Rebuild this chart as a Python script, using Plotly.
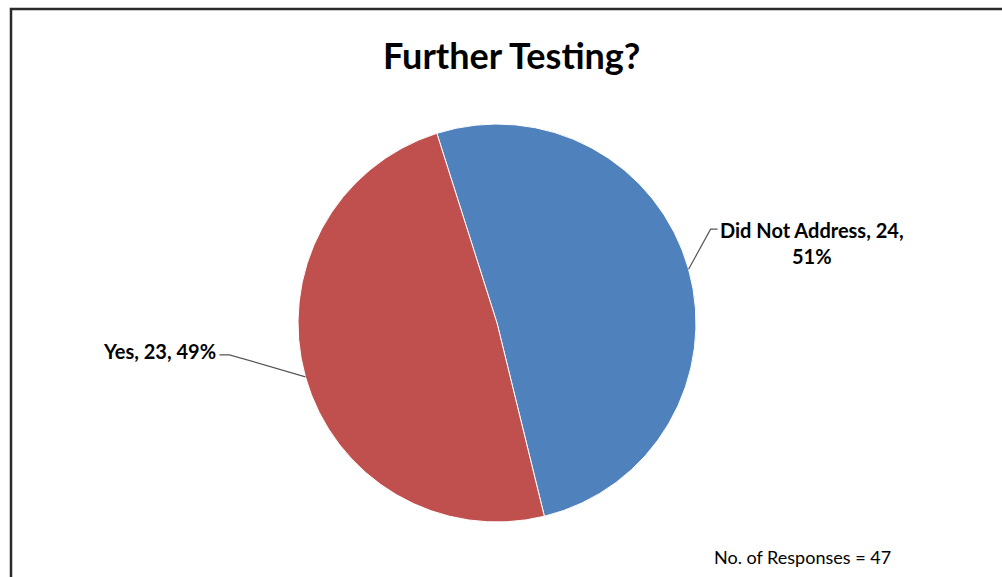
import math
import plotly.graph_objects as go

# ---- data ----
categories = ["Did Not Address", "Yes"]
counts = [24, 23]
colors = ["#4F81BD", "#C0504D"]
title_text = "Further Testing?"
note_text = "No. of Responses = 47"

W, H = 1002, 577
cx, cy, R = 497, 323, 199          # pie centre / radius in pixels (layout)
rotation = -17.6                    # start angle of first slice (deg, clockwise from top)

def px2paper(x, y):
    return x / W, 1 - y / H

fig = go.Figure(go.Pie(
    labels=categories, values=counts, sort=False, direction="clockwise",
    rotation=rotation, marker=dict(colors=colors, line=dict(color="white", width=1)),
    textinfo="none", hoverinfo="label+value+percent", showlegend=False,
    domain=dict(x=[(cx - R) / W, (cx + R) / W], y=[1 - (cy + R) / H, 1 - (cy - R) / H]),
))

total = sum(counts)
shapes = []
annotations = []
start = rotation
label_style = [
    # (elbow offset dx, dy, horizontal tail, side)
    (22, -40, 7, "right"),
    (-76, -22, -10, "left"),
]
for i, (cat, v) in enumerate(zip(categories, counts)):
    span = 360 * v / total
    mid = math.radians(start + span / 2)
    start += span
    ex, ey = cx + R * math.sin(mid), cy - R * math.cos(mid)
    dx, dy, tail, side = label_style[i]
    bx, by = ex + dx, ey + dy
    tx = bx + tail
    pts = [px2paper(ex, ey), px2paper(bx, by), px2paper(tx, by)]
    path = "M {} {} L {} {} L {} {}".format(*[c for p in pts for c in p])
    shapes.append(dict(type="path", xref="paper", yref="paper", path=path,
                       line=dict(color="#555555", width=1.2)))
    pct = round(100 * v / total)
    if side == "right":
        txt = f"{cat}, {v},<br>{pct}%"
        ax, ay = px2paper(tx, by - 13)
        annotations.append(dict(x=ax, y=ay, xref="paper", yref="paper", text=txt,
                                showarrow=False, xanchor="left", yanchor="top", align="center",
                                font=dict(family="Lato", size=20, color="#000000", weight="bold")))
    else:
        txt = f"{cat}, {v}, {pct}%"
        ax, ay = px2paper(tx - 1, by - 4)
        annotations.append(dict(x=ax, y=ay, xref="paper", yref="paper", text=txt,
                                showarrow=False, xanchor="right", yanchor="middle", align="right",
                                font=dict(family="Lato", size=20, color="#000000", weight="bold")))

# title
tx_, ty_ = px2paper(511, 55)
annotations.append(dict(x=tx_, y=ty_, xref="paper", yref="paper", text=title_text,
                        showarrow=False, xanchor="center", yanchor="middle",
                        font=dict(family="Lato", size=36, color="#000000", weight="bold")))
# footnote
nx, ny = px2paper(712, 557)
annotations.append(dict(x=nx, y=ny, xref="paper", yref="paper", text=note_text,
                        showarrow=False, xanchor="left", yanchor="middle",
                        font=dict(family="Lato", size=18, color="#000000")))

# chart border
bx0, by0 = px2paper(11, 9)
shapes.append(dict(type="rect", xref="paper", yref="paper", x0=bx0, y0=-0.2, x1=1.2, y1=by0,
                   line=dict(color="#2a2a2a", width=2.5), fillcolor="rgba(0,0,0,0)", layer="above"))

fig.update_layout(width=W, height=H, margin=dict(l=0, r=0, t=0, b=0),
                  paper_bgcolor="white", plot_bgcolor="white",
                  shapes=shapes, annotations=annotations)
fig.write_html("out.html", config={"displayModeBar": False},
               post_script="document.body.style.margin='0';document.body.style.overflow='hidden';")
